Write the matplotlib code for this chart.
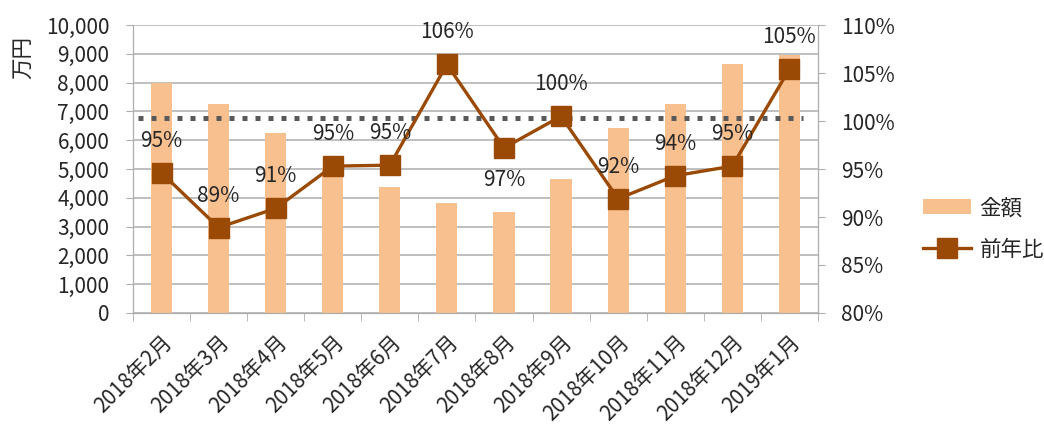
import matplotlib.pyplot as plt
from matplotlib.ticker import FuncFormatter, MultipleLocator, FixedLocator
import numpy as np

plt.rcParams['font.family'] = ['Noto Sans CJK JP', 'DejaVu Sans']

# データ
months = ["2018年2月", "2018年3月", "2018年4月", "2018年5月", "2018年6月", "2018年7月",
          "2018年8月", "2018年9月", "2018年10月", "2018年11月", "2018年12月", "2019年1月"]
amount = [8000, 7260, 6250, 5050, 4380, 3820, 3510, 4650, 6420, 7250, 8640, 8960]
yoy = [94.6, 88.9, 90.9, 95.3, 95.4, 105.9, 97.2, 100.5, 91.9, 94.3, 95.3, 105.4]
yoy_labels = ["95%", "89%", "91%", "95%", "95%", "106%", "97%", "100%", "92%", "94%", "95%", "105%"]
label_below = [False, False, False, False, False, False, True, False, False, False, False, False]
ref_line = 100.3

bar_color = "#F9C08F"
line_color = "#9A4A05"
text_color = "#262626"
grid_color = "#ADADAD"

fig = plt.figure(figsize=(10.44, 4.32), dpi=100)
ax = fig.add_axes([0.1274, 0.2755, 0.656, 0.6665])
ax2 = ax.twinx()

x = np.arange(len(months))
ax.bar(x, amount, width=0.37, color=bar_color, label="金額", zorder=2)
ax.set_ylim(0, 10000)
ax.set_xlim(-0.5, len(months) - 0.5)
ax.yaxis.set_major_locator(MultipleLocator(1000))
ax.yaxis.set_major_formatter(FuncFormatter(lambda v, p: f"{int(v):,}"))
ax.grid(axis='y', color=grid_color, linewidth=1.1, zorder=0)
ax.set_axisbelow(True)

ax.set_xticks(x)
ax.set_xticklabels(months, rotation=45, ha='right', rotation_mode='anchor',
                   fontsize=15, color=text_color)
ax.tick_params(axis='x', length=0, pad=13)
ax.xaxis.set_minor_locator(FixedLocator(np.arange(-0.5, len(months), 1)))
ax.tick_params(axis='x', which='minor', length=6, color=grid_color)
ax.tick_params(axis='y', labelsize=15, colors=text_color, length=5, color=grid_color, pad=12)

for s in ['top']:
    ax.spines[s].set_visible(False)
    ax2.spines[s].set_visible(False)
for s in ['left', 'bottom', 'right']:
    ax.spines[s].set_color(grid_color)
    ax2.spines[s].set_color(grid_color)

# 前年比
ax2.set_ylim(80, 110)
ax2.yaxis.set_major_locator(MultipleLocator(5))
ax2.yaxis.set_major_formatter(FuncFormatter(lambda v, p: f"{int(round(v))}%"))
ax2.tick_params(axis='y', labelsize=15, colors=text_color, length=5, color=grid_color, pad=12)
ax2.plot([-0.42, len(months) - 0.76], [ref_line, ref_line], color="#595959",
         linewidth=3.6, linestyle=(0, (1, 1.6)), zorder=3)
ax2.plot(x, yoy, color=line_color, linewidth=2.4, marker='s', markersize=14,
         label="前年比", zorder=4)
for xi, yi, lab, below in zip(x, yoy, yoy_labels, label_below):
    ax2.annotate(lab, (xi, yi), xytext=(0, -23 if below else 23), textcoords='offset points',
                 ha='center', va='center', fontsize=15, color=text_color, zorder=5)

fig.text(0.022, 0.868, "万円", rotation=90, ha='center', va='center', fontsize=15.5,
         color=text_color)

h1, l1 = ax.get_legend_handles_labels()
h2, l2 = ax2.get_legend_handles_labels()
fig.legend(h1 + h2, l1 + l2, loc='center left', bbox_to_anchor=(0.866, 0.47),
           frameon=False, fontsize=15.5, handlelength=2.2, labelspacing=0.9,
           handletextpad=0.4, labelcolor=text_color)

fig.savefig("out.png", dpi=100)
